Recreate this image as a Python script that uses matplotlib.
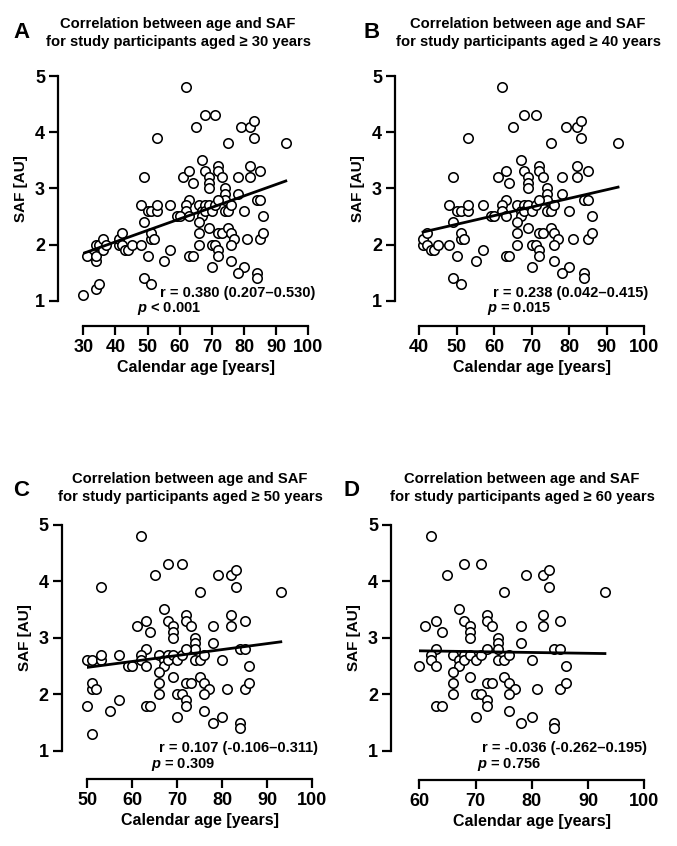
import matplotlib.pyplot as plt
import numpy as np

plt.rcParams['font.family'] = ['Liberation Sans', 'DejaVu Sans']
plt.rcParams['font.weight'] = 'bold'
plt.rcParams['mathtext.fontset'] = 'custom'
plt.rcParams['mathtext.it'] = 'Liberation Sans:italic:bold'
plt.rcParams['mathtext.rm'] = 'Liberation Sans:bold'

age = [30, 31, 34, 34, 34, 34, 35, 35, 36, 36, 37,
       41, 41, 42, 42, 43, 44, 45, 48, 48, 49, 49, 49,
       50, 50, 51, 51, 51, 51, 52, 53, 53, 53, 55, 57, 57, 59,
       62, 68, 71, 65, 79, 82, 83, 83, 75, 93, 67, 61, 63, 64, 68,
       69, 69, 69, 72, 72, 73, 74, 74, 74, 78, 78, 82, 82, 85,
       63, 62, 62, 60, 63, 66, 67, 67, 68, 68, 69, 70, 71, 72,
       74, 75, 76, 80, 84, 85, 86, 66, 66, 66, 69, 72, 73, 75,
       76, 77, 81, 85, 86, 70, 71, 72, 72, 76, 76, 63, 64, 70,
       80, 78, 84, 84]
saf = [1.1, 1.8, 1.2, 1.7, 1.8, 2.0, 1.3, 2.0, 1.9, 2.1, 2.0,
       2.0, 2.1, 2.0, 2.2, 1.9, 1.9, 2.0, 2.0, 2.7, 1.4, 2.4, 3.2,
       1.8, 2.6, 1.3, 2.1, 2.2, 2.6, 2.1, 2.6, 2.7, 3.9, 1.7, 1.9, 2.7, 2.5,
       4.8, 4.3, 4.3, 4.1, 4.1, 4.1, 4.2, 3.9, 3.8, 3.8, 3.5, 3.2, 3.3, 3.1, 3.3,
       3.2, 3.1, 3.0, 3.4, 3.3, 3.2, 3.0, 2.9, 2.8, 3.2, 2.9, 3.4, 3.2, 3.3,
       2.8, 2.7, 2.6, 2.5, 2.5, 2.7, 2.6, 2.5, 2.7, 2.6, 2.7, 2.6, 2.7, 2.8,
       2.6, 2.6, 2.7, 2.6, 2.8, 2.8, 2.5, 2.4, 2.2, 2.0, 2.3, 2.2, 2.2, 2.3,
       2.2, 2.1, 2.1, 2.1, 2.2, 2.0, 2.0, 1.9, 1.8, 2.0, 1.7, 1.8, 1.8, 1.6,
       1.6, 1.5, 1.5, 1.4]

min_ages = [30, 40, 50, 60]
letters = ['A', 'B', 'C', 'D']
r_labels = ['r = 0.380 (0.207\u20130.530)', 'r = 0.238 (0.042\u20130.415)',
            'r = 0.107 (-0.106\u20130.311)', 'r = -0.036 (-0.262\u20130.195)']
p_labels = ['$p$ < 0.001', '$p$ = 0.015', '$p$ = 0.309', '$p$ = 0.756']

W, H = 677, 846
# pixel layout per panel: plot box, spine offsets, title/letter/annotation spots
boxes = [(83.3, 76, 308.3, 300.7), (419.3, 76, 644.3, 300.7),
         (87.3, 524.5, 312.3, 750.9), (419.3, 524.5, 644.3, 750.9)]
offsets = [(25, 25), (24, 25), (25.6, 28), (28, 29)]
title_x = [178, 528, 190, 522]
title_y = [(24, 42), (24, 42), (479, 497), (479, 497)]
letter_xy = [(21, 33), (372, 33), (21, 490), (352, 490)]
r_xy = [(160, 293), (493, 293), (159, 748), (482, 748)]
p_xy = [(137, 308), (487, 308.5), (151, 764), (477, 764)]

age_arr = np.array(age, dtype=float)
saf_arr = np.array(saf, dtype=float)

fig = plt.figure(figsize=(W / 100, H / 100), dpi=100)


def fx(x):
    return x / W


def fy(y):
    return 1 - y / H


for i in range(4):
    x0, y0, x1, y1 = boxes[i]
    ax = fig.add_axes([fx(x0), fy(y1), (x1 - x0) / W, (y1 - y0) / H])
    sel = age_arr >= min_ages[i]
    xs, ys = age_arr[sel], saf_arr[sel]

    ax.plot(xs, ys, 'o', ms=6.8, mfc='white', mec='black', mew=1.15,
            clip_on=False, zorder=3)
    # least-squares line over the panel's age range
    k, b = np.polyfit(xs, ys, 1)
    xl = np.array([xs.min(), xs.max()])
    ax.plot(xl, k * xl + b, color='black', lw=2.0, zorder=4)

    ax.set_xlim(min_ages[i], 100)
    ax.set_ylim(1, 5)
    ax.set_xticks(np.arange(min_ages[i], 101, 10))
    ax.set_yticks([1, 2, 3, 4, 5])
    for sp in ['top', 'right']:
        ax.spines[sp].set_visible(False)
    ax.spines['left'].set_position(('outward', offsets[i][0] * 0.72))
    ax.spines['bottom'].set_position(('outward', offsets[i][1] * 0.72))
    for sp in ['left', 'bottom']:
        ax.spines[sp].set_linewidth(1.6)
    ax.tick_params(direction='out', length=6.5, width=1.6, labelsize=13, pad=3)
    for lab in ax.get_xticklabels() + ax.get_yticklabels():
        lab.set_fontweight('bold')
    ax.set_xlabel('Calendar age [years]', fontsize=11.5, fontweight='bold', labelpad=3)
    ax.set_ylabel('SAF [AU]', fontsize=11, fontweight='bold', labelpad=5)
    ax.patch.set_alpha(0)

    fig.text(fx(title_x[i]), fy(title_y[i][0]), 'Correlation between age and SAF',
             ha='center', va='center', fontsize=10.6, fontweight='bold')
    fig.text(fx(title_x[i]), fy(title_y[i][1]),
             'for study participants aged \u2265 %d years' % min_ages[i],
             ha='center', va='center', fontsize=10.6, fontweight='bold')
    fig.text(fx(letter_xy[i][0]), fy(letter_xy[i][1]), letters[i],
             ha='center', va='center', fontsize=16, fontweight='bold')
    fig.text(fx(r_xy[i][0]), fy(r_xy[i][1]), r_labels[i],
             ha='left', va='center', fontsize=10.5, fontweight='bold')
    fig.text(fx(p_xy[i][0]), fy(p_xy[i][1]), p_labels[i],
             ha='left', va='center', fontsize=10.5, fontweight='bold')

fig.savefig('out.png', dpi=100)
